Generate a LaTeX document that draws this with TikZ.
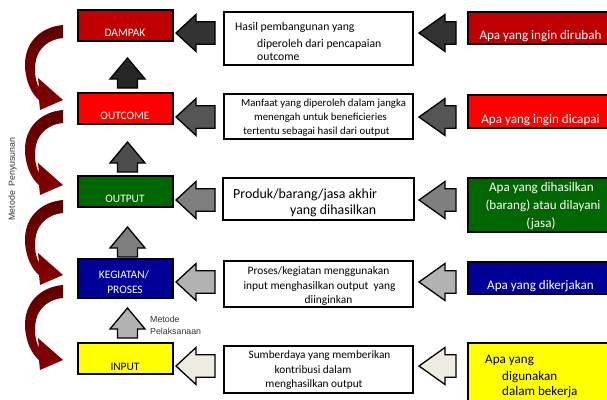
\documentclass[tikz,border=0pt]{standalone}
\usepackage{fontspec}
\setmainfont{Carlito}
\newfontfamily\labelfont{Liberation Sans}

\definecolor{cDampak}{HTML}{C00000}
\definecolor{cOutcome}{HTML}{FF0000}
\definecolor{cOutput}{HTML}{006600}
\definecolor{cProses}{HTML}{000099}
\definecolor{cInput}{HTML}{FFFF00}
\definecolor{bendDark}{HTML}{5E0000}
\definecolor{bendLight}{HTML}{840000}
\definecolor{labelGray}{HTML}{333333}
\definecolor{upA}{HTML}{262626}
\definecolor{upB}{HTML}{4D4D4D}
\definecolor{upC}{HTML}{7F7F7F}
\definecolor{upD}{HTML}{B2B2B2}
\definecolor{rowA}{HTML}{333333}
\definecolor{rowB}{HTML}{555555}
\definecolor{rowC}{HTML}{7F7F7F}
\definecolor{rowD}{HTML}{B2B2B2}
\definecolor{rowE}{HTML}{EEECE1}

\tikzset{
  boxline/.style={draw=black, line width=1.4pt, inner sep=0pt, outer sep=0pt, anchor=north west},
  lbox/.style={boxline, minimum width=95pt},
  mbox/.style={boxline, fill=white, minimum width=189pt},
  rbox/.style={boxline, line width=1.2pt, minimum width=146pt},
  blockarrow/.style={draw=black, line width=1.3pt, line join=miter},
  ltext/.style={font=\fontsize{11.4}{14}\selectfont, text=white, inner sep=0pt, anchor=base},
  mtext/.style={inner sep=0pt},
  rtext/.style={font=\fontsize{13.1}{16}\selectfont, text=white, inner sep=0pt, anchor=base},
  sidelabel/.style={font=\labelfont\fontsize{8.8}{11}\selectfont, text=labelGray, inner sep=0pt},
  bendfill/.style={top color=bendDark, bottom color=bendLight, draw=none},
}

% block arrow pointing left: tip x, tip y, head length, total length, fill
\newcommand\blockleft[5]{%
  \path[blockarrow, fill=#5] (#1,#2) -- ++(#3,-18.5) -- ++(0,7.3) -- ++({#4-#3},0)
    -- ++(0,22.4) -- ++({#3-#4},0) -- ++(0,7.3) -- cycle;}
% block arrow pointing up: apex x, apex y, fill
\newcommand\blockup[3]{%
  \path[blockarrow, fill=#3] (#1,#2) -- ++(17.5,21) -- ++(-7.5,0) -- ++(0,9)
    -- ++(-20,0) -- ++(0,-9) -- ++(-7.5,0) -- cycle;}
% curved arrow on the left margin, starting at height #1
\newcommand\bendarrow[1]{%
  \path[bendfill, shift={(0,#1)}]
    (63,0) .. controls (40,2) and (24,18) .. (25,42)
    .. controls (26,58) and (32,69) .. (39,75)
    -- (40,85) -- (63,75) -- (38,53) -- (39,63)
    .. controls (35,55) and (34,45) .. (36,35)
    .. controls (39,22) and (50,14) .. (63,13) -- cycle;}

\begin{document}
\begin{tikzpicture}[x=1pt,y=-1pt]
\useasboundingbox (0,0) rectangle (607,399);

% curved arrows of the planning method
\foreach \t in {25,110,200,285} {\bendarrow{\t}}
\node[sidelabel, rotate=90] (metodePenyusunan) at (12.5,179) {Metode\enspace Penyusunan};

% left column: the chain of results
\node[lbox, fill=cDampak, minimum height=31pt] (lDampak) at (78,10) {};
\node[lbox, fill=cOutcome, minimum height=31pt] (lOutcome) at (78,93) {};
\node[lbox, fill=cOutput, minimum height=31pt] (lOutput) at (78,176) {};
\node[lbox, fill=cProses, minimum height=39pt] (lProses) at (78,259) {};
\node[lbox, fill=cInput, minimum height=31pt] (lInput) at (78,343) {};

\node[ltext] (tDampak) at (125,36.5) {DAMPAK};
\node[ltext] (tOutcome) at (125,119.5) {OUTCOME};
\node[ltext] (tOutput) at (125,202.5) {OUTPUT};
\node[ltext] (tKegiatan) at (124,278.3) {KEGIATAN/};
\node[ltext] (tProses) at (125,293.3) {PROSES};
\node[ltext, text=black] (tInput) at (125,370.7) {INPUT};

\blockup{127.5}{58}{upA}
\blockup{127.5}{142}{upB}
\blockup{127.5}{227}{upC}
\blockup{127.5}{308}{upD}

\node[sidelabel, anchor=base west] (metodeA) at (150,322.3) {Metode};
\node[sidelabel, anchor=base west] (metodeB) at (150,334) {Pelaksanaan};

% arrows into the left column
\blockleft{176}{33}{20}{39}{rowA}
\blockleft{176}{117}{20}{39}{rowB}
\blockleft{176}{200}{20}{39}{rowC}
\blockleft{176}{282}{20}{39}{rowD}
\blockleft{176}{366}{20}{39}{rowE}

% middle column: definitions
\node[mbox, minimum height=53pt] (mDampak) at (224,12) {};
\node[mbox, minimum height=45pt] (mOutcome) at (224,94) {};
\node[mbox, minimum width=191pt, minimum height=42pt] (mOutput) at (223,178) {};
\node[mbox, minimum height=46pt] (mProses) at (224,261) {};
\node[mbox, minimum height=47pt] (mInput) at (224,346) {};

\begin{scope}[every node/.style={mtext, font=\fontsize{11.7}{14}\selectfont}]
\node[anchor=base west] (dA) at (235,30.5) {Hasil pembangunan yang};
\node[anchor=base west] (dB) at (257,47) {diperoleh dari pencapaian};
\node[anchor=base west] (dC) at (257,60) {outcome};
\end{scope}

\begin{scope}[every node/.style={mtext, anchor=base, font=\fontsize{10.8}{13}\selectfont}]
\node (oA) at (323.5,106) {Manfaat yang diperoleh dalam jangka};
\node (oB) at (320.5,120) {menengah untuk beneficieries};
\node (oC) at (316.5,134) {tertentu sebagai hasil dari output};
\end{scope}

\begin{scope}[every node/.style={mtext, anchor=base west, font=\fontsize{13.9}{16}\selectfont}]
\node (pA) at (233,198) {Produk/barang/jasa akhir};
\node (pB) at (290,214) {yang dihasilkan};
\end{scope}

\begin{scope}[every node/.style={mtext, anchor=base, font=\fontsize{11.4}{14}\selectfont}]
\node (kA) at (318.5,274) {Proses/kegiatan menggunakan};
\node (kB) at (319.5,289) {input menghasilkan output\ \ yang};
\node (kC) at (328.5,303) {diinginkan};
\end{scope}

\begin{scope}[every node/.style={mtext, anchor=base, font=\fontsize{11.3}{14}\selectfont}]
\node (iA) at (319.5,358) {Sumberdaya yang memberikan};
\node (iB) at (313,373) {kontribusi dalam};
\node (iC) at (314,387) {menghasilkan output};
\end{scope}

% arrows into the middle column
\blockleft{419}{33}{26}{37}{rowA}
\blockleft{419}{117}{26}{37}{rowB}
\blockleft{419}{200}{26}{37}{rowC}
\blockleft{419}{282}{26}{37}{rowD}
\blockleft{419}{366}{26}{37}{rowE}

% right column: guiding questions
\node[rbox, fill=cDampak, minimum height=32pt] (rDampak) at (468,12) {};
\node[rbox, fill=cOutcome, minimum height=33pt] (rOutcome) at (468,95) {};
\node[rbox, fill=cOutput, minimum height=54pt] (rOutput) at (468,178) {};
\node[rbox, fill=cProses, minimum height=32pt] (rProses) at (468,262) {};
\node[rbox, fill=cInput, minimum height=62pt] (rInput) at (468,343) {};

\node[rtext] (qDampak) at (540.5,39.3) {Apa yang ingin dirubah};
\node[rtext] (qOutcome) at (540.5,123) {Apa yang ingin dicapai};
\node[rtext] (qOutputA) at (541.5,191.7) {Apa yang dihasilkan};
\node[rtext] (qOutputB) at (543,209.5) {(barang) atau dilayani};
\node[rtext] (qOutputC) at (541,227) {(jasa)};
\node[rtext] (qProses) at (540.5,289) {Apa yang dikerjakan};
\node[rtext, text=black, anchor=base west] (qInputA) at (485,363) {Apa yang};
\node[rtext, text=black, anchor=base west] (qInputB) at (502,380) {digunakan};
\node[rtext, text=black, anchor=base west] (qInputC) at (502,395.5) {dalam bekerja};
\end{tikzpicture}
\end{document}
